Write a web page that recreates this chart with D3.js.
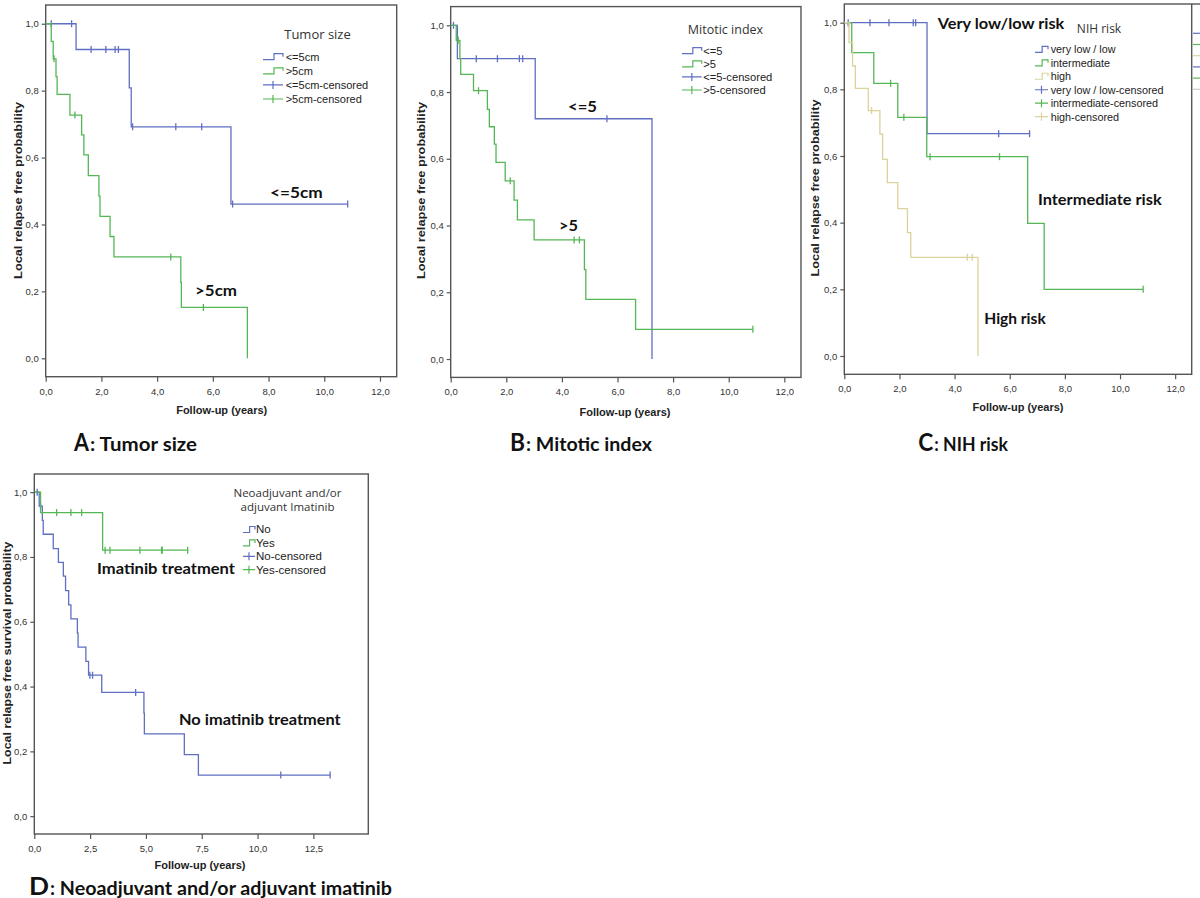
<!DOCTYPE html>
<html><head><meta charset="utf-8">
<script src="https://cdn.jsdelivr.net/npm/d3@7"></script>
<style>body{margin:0;background:#fff} svg{display:block}</style>
</head><body>
<svg id="c" width="1200" height="898"></svg>
<script>
// ---------------- DATA ----------------
const xTicks12 = [0, 2, 4, 6, 8, 10, 12];
const xTicks15 = [0, 2.5, 5, 7.5, 10, 12.5];
const yTicks = [0, 0.2, 0.4, 0.6, 0.8, 1.0];

// Panel A: tumor size  ([time, survival after drop])
const tumorSmallEvents = [[1.09,0.923],[3.0,0.808],[3.07,0.692],[6.65,0.461]];
const tumorSmallCensored = [0.2,0.93,1.63,2.16,2.49,2.61,3.12,4.67,5.6,6.71,10.84];
const tumorLargeEvents = [[0.2,0.947],[0.27,0.895],[0.37,0.842],[0.41,0.789],[0.87,0.727],[1.29,0.668],[1.37,0.608],[1.53,0.546],[1.91,0.485],[1.95,0.424],[2.31,0.364],[2.45,0.303],[4.85,0.227],[4.87,0.152],[7.24,0.0]];
const tumorLargeCensored = [0.3,1.05,4.49,5.66];

// Panel B: mitotic index
const mitLowEvents = [[0.24,0.9],[3.04,0.72],[7.24,0.0]];
const mitLowCensored = [0.1,0.92,1.68,2.47,2.59,5.62];
const mitHighEvents = [[0.2,0.955],[0.33,0.9],[0.36,0.853],[0.82,0.804],[1.32,0.748],[1.39,0.696],[1.57,0.644],[1.63,0.589],[1.96,0.534],[2.28,0.476],[2.4,0.417],[3.0,0.357],[4.81,0.268],[4.86,0.179],[6.65,0.089]];
const mitHighCensored = [0.27,1.0,2.14,4.44,4.63,10.87];

// Panel C: NIH risk
const nihLowEvents = [[3.0,0.667]];
const nihLowCensored = [0.14,0.93,1.62,2.5,2.59,5.6,6.72];
const nihIntEvents = [[0.27,0.91],[1.07,0.818],[1.94,0.716],[2.99,0.598],[6.65,0.398],[7.25,0.2]];
const nihIntCensored = [1.68,2.16,3.11,5.63,10.84];
const nihHighEvents = [[0.17,0.94],[0.3,0.87],[0.4,0.803],[0.87,0.736],[1.29,0.666],[1.39,0.59],[1.56,0.52],[1.94,0.442],[2.29,0.37],[2.41,0.296],[4.85,0.0]];
const nihHighCensored = [0.99,4.46,4.64];

// Panel D: imatinib
const imaNoEvents = [[0.22,0.957],[0.36,0.913],[0.4,0.87],[0.85,0.826],[1.08,0.783],[1.3,0.741],[1.4,0.696],[1.54,0.652],[1.64,0.609],[1.93,0.565],[1.96,0.522],[2.31,0.478],[2.43,0.435],[3.02,0.382],[4.91,0.318],[4.93,0.254],[6.72,0.19],[7.35,0.127]];
const imaNoCensored = [0.13,0.28,2.49,2.61,4.54,11.04,13.25];
const imaYesEvents = [[0.28,0.937],[3.06,0.821]];
const imaYesCensored = [1.0,1.64,2.12,3.17,3.39,4.73,5.7,5.73,6.87];

// ---------------- STYLE ----------------
const BLUE = "#5f6fc2", GREEN = "#55b655", TAN = "#dcd39c";
const FRAME = "#555";
const svg = d3.select("#c");

function fmt(v){ return d3.format(".1f")(v).replace(".", ","); }

function survPath(events, censored){
  const pts = [[0,1]];
  let prev = 1, last = 0;
  events.forEach(([t,s]) => { pts.push([t,prev],[t,s]); prev = s; last = t; });
  const end = Math.max(last, d3.max(censored) || 0);
  if (end > last) pts.push([end, prev]);
  return pts;
}
function survAt(events, t){ let s = 1; events.forEach(([et,es]) => { if (et <= t) s = es; }); return s; }

function boldText(g, txt, x, cy, size, width, anchor){
  const t = g.append("text").attr("x", x).attr("y", cy + size*0.36)
    .attr("font-family","Lato, 'Open Sans', sans-serif").attr("font-weight","bold")
    .attr("font-size", size).attr("fill","#111").text(txt);
  if (anchor) t.attr("text-anchor", anchor);
  if (width) t.attr("textLength", width).attr("lengthAdjust","spacingAndGlyphs");
  return t;
}

function drawPanel(p){
  const g = svg.append("g");
  const x = d3.scaleLinear().domain([0, p.xmax]).range([p.left, p.right]);
  const y = d3.scaleLinear().domain([-0.055, 1.056]).range([p.bottom, p.top]);
  g.append("rect").attr("x",p.left).attr("y",p.top).attr("width",p.right-p.left).attr("height",p.bottom-p.top)
    .attr("fill","#fff").attr("stroke",FRAME).attr("stroke-width",1.4);
  // axes
  const xa = g.append("g").attr("transform",`translate(0,${p.bottom})`)
    .call(d3.axisBottom(x).tickValues(p.xTicks).tickSize(5).tickFormat(fmt));
  const ya = g.append("g").attr("transform",`translate(${p.left},0)`)
    .call(d3.axisLeft(y).tickValues(yTicks).tickSize(4).tickFormat(fmt));
  [xa, ya].forEach(a => {
    a.select(".domain").remove();
    a.selectAll("line").attr("stroke",FRAME).attr("stroke-width",1.2);
    a.selectAll("text").attr("font-family","'Liberation Sans', Arial, sans-serif").attr("font-size",9.5).attr("fill","#333");
  });
  xa.selectAll("text").attr("dy","1.05em");
  // axis titles
  g.append("text").attr("x",p.xtitle[0]).attr("y",p.xtitle[1]+4).attr("text-anchor","middle")
    .attr("font-family","'Liberation Sans', Arial, sans-serif").attr("font-weight","bold").attr("font-size",11)
    .attr("fill","#222").text("Follow-up (years)");
  g.append("text").attr("transform",`translate(${p.ytitle[0]+4},${p.ytitle[1]}) rotate(-90)`).attr("text-anchor","middle")
    .attr("font-family","'Liberation Sans', Arial, sans-serif").attr("font-weight","bold").attr("font-size",10.5)
    .attr("fill","#222").attr("textLength",p.ytitle[3]).attr("lengthAdjust","spacingAndGlyphs").text(p.ytitle[2]);
  // curves
  const line = d3.line().x(d => x(d[0])).y(d => y(d[1]));
  p.series.forEach(s => {
    g.append("path").attr("d", line(survPath(s.events, s.censored))).attr("fill","none")
      .attr("stroke", s.color).attr("stroke-width",1.3);
    g.selectAll(null).data(s.censored).enter().append("line")
      .attr("x1", d => x(d)).attr("x2", d => x(d))
      .attr("y1", d => y(survAt(s.events, d)) - 3.5).attr("y2", d => y(survAt(s.events, d)) + 3.5)
      .attr("stroke", s.color).attr("stroke-width",1.3);
  });
  // legend
  const L = p.legend;
  L.title.forEach((t,i) => {
    g.append("text").attr("x",L.tx).attr("y",L.ty[i]+4).attr("text-anchor","middle")
      .attr("font-family","'Open Sans', 'Liberation Sans', sans-serif").attr("font-size",L.tsize).attr("fill","#333").text(t);
  });
  const entries = [];
  p.series.forEach(s => entries.push({label:s.name, color:s.color, kind:"step"}));
  p.series.forEach(s => entries.push({label:s.name + "-censored", color:s.color, kind:"cens"}));
  entries.forEach((e,i) => {
    const yy = L.y0 + i*L.dy, x0 = L.sx0, x1 = L.sx1, w = x1 - x0;
    if (e.kind === "step") {
      g.append("path").attr("d",`M${x0},${yy+3}H${x0+w*0.55}V${yy-3}H${x1}V${yy}`)
        .attr("fill","none").attr("stroke",e.color).attr("stroke-width",1.2);
    } else {
      g.append("path").attr("d",`M${x0},${yy}H${x1}M${(x0+x1)/2},${yy-4}V${yy+4}`)
        .attr("fill","none").attr("stroke",e.color).attr("stroke-width",1.2);
    }
    g.append("text").attr("x",L.textx).attr("y",yy+3.8)
      .attr("font-family","'Liberation Sans', Arial, sans-serif").attr("font-size",L.size).attr("fill","#222").text(e.label);
  });
  // annotations
  p.notes.forEach(n => boldText(g, n[0], n[1], n[3], 16, n[2]-n[1]));
  // panel caption
  boldText(g, p.cap[0], p.cap[1], p.cap[3], 24, p.cap[2]-p.cap[1]).attr("y", p.cap[4]);
  boldText(g, p.cap[5], p.cap[2]+1, p.cap[3], 19, p.cap[6]-p.cap[2]-1).attr("y", p.cap[4]);
}

drawPanel({
  left:45.7, right:396.7, top:5, bottom:376.7, xmax:12.6, xTicks:xTicks12,
  xtitle:[221.7,410], ytitle:[18.3,190.4,"Local relapse free probability",177],
  series:[
    {name:"<=5cm", color:BLUE, events:tumorSmallEvents, censored:tumorSmallCensored},
    {name:">5cm", color:GREEN, events:tumorLargeEvents, censored:tumorLargeCensored}],
  legend:{title:["Tumor size"], tx:317.5, ty:[35], tsize:13, y0:56.7, dy:14.1, sx0:263, sx1:283, textx:285.7, size:11},
  notes:[["<=5cm",270,322.7,192.7],[">5cm",195,237,290.7]],
  cap:["A",74,89,443,450.7,": Tumor size",197]
});
drawPanel({
  left:450.7, right:801, top:6.6, bottom:377.4, xmax:12.6, xTicks:xTicks12,
  xtitle:[625,412], ytitle:[421,190.5,"Local relapse free probability",177],
  series:[
    {name:"<=5", color:BLUE, events:mitLowEvents, censored:mitLowCensored},
    {name:">5", color:GREEN, events:mitHighEvents, censored:mitHighCensored}],
  legend:{title:["Mitotic index"], tx:725.5, ty:[30], tsize:12.5, y0:50.7, dy:13.1, sx0:682, sx1:701.7, textx:703.3, size:11.2},
  notes:[["<=5",568,597,106],[">5",559,578,225]],
  cap:["B",510,525,443,450.7,": Mitotic index",652]
});
drawPanel({
  left:844.3, right:1191.7, top:4, bottom:374.3, xmax:12.6, xTicks:xTicks12,
  xtitle:[1018,407], ytitle:[815,188,"Local relapse free probability",177],
  series:[
    {name:"very low  / low", color:BLUE, events:nihLowEvents, censored:nihLowCensored},
    {name:"intermediate", color:GREEN, events:nihIntEvents, censored:nihIntCensored},
    {name:"high", color:TAN, events:nihHighEvents, censored:nihHighCensored}],
  legend:{title:["NIH risk"], tx:1099, ty:[29.3], tsize:12, y0:49.3, dy:13.48, sx0:1035, sx1:1048, textx:1050.7, size:10.8},
  notes:[["Very low/low risk",937.7,1064.3,23.3],["Intermediate risk",1038,1161.7,199.3],["High risk",984.3,1045.7,318.3]],
  cap:["C",918.3,933.3,443,450.7,": NIH risk",1008]
});
drawPanel({
  left:34.3, right:368.3, top:474, bottom:834, xmax:14.96, xTicks:xTicks15,
  xtitle:[200,865], ytitle:[6.7,653,"Local relapse free survival probability",223],
  series:[
    {name:"No", color:BLUE, events:imaNoEvents, censored:imaNoCensored},
    {name:"Yes", color:GREEN, events:imaYesEvents, censored:imaYesCensored}],
  legend:{title:["Neoadjuvant and/or","adjuvant Imatinib"], tx:287.5, ty:[493,507], tsize:11.5, y0:529.5, dy:13.4, sx0:243, sx1:255, textx:256, size:11.5},
  notes:[["Imatinib treatment",97,235,568.3],["No imatinib treatment",179,340.7,719]],
  cap:["D",29,49,888,894.5,": Neoadjuvant and/or adjuvant imatinib",392]
});

// cut-off legend fragment at the far right edge (neighbouring figure)
const fragColors = [BLUE, GREEN, TAN, BLUE, GREEN, "#ccc"];
svg.append("line").attr("x1",1191.7).attr("x2",1200).attr("y1",4).attr("y2",4).attr("stroke",FRAME).attr("stroke-width",1.4);
svg.selectAll(null).data(fragColors).enter().append("line")
  .attr("x1",1193).attr("x2",1200)
  .attr("y1",(d,i)=>33.3 + i*11.2).attr("y2",(d,i)=>33.3 + i*11.2)
  .attr("stroke",d=>d).attr("stroke-width",1.2);
</script>
</body></html>
